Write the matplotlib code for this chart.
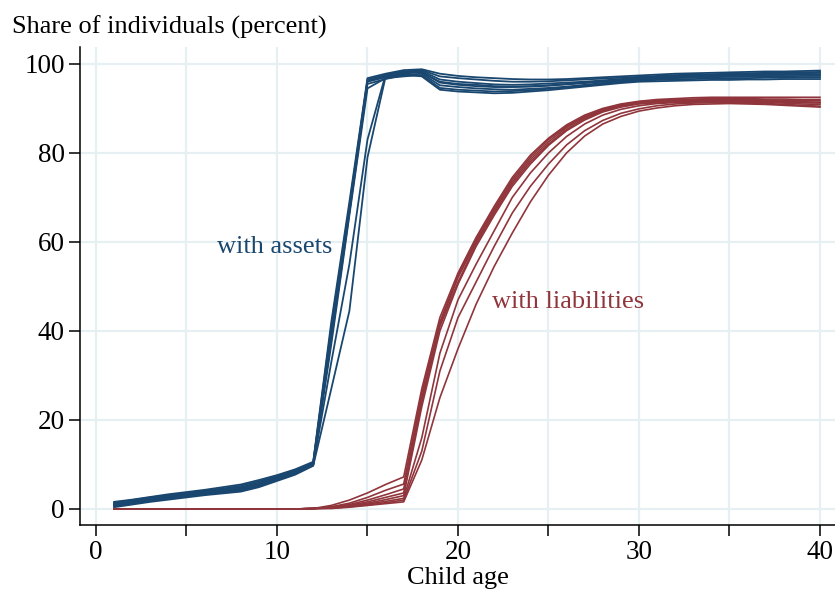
import matplotlib
matplotlib.use("Agg")
import matplotlib.pyplot as plt

# Child age (x axis)
ages = list(range(1, 41))

# Share with assets, one list per sample
assets_1 = [1.6, 2.1, 2.7, 3.3, 3.8, 4.3, 4.9, 5.5, 6.5, 7.6, 8.9, 10.6,
            42, 69, 96.8, 97.8, 98.6, 98.8, 97.8, 97.3,
            97.0, 96.8, 96.6, 96.5, 96.5, 96.6, 96.8, 97.0, 97.2, 97.4,
            97.6, 97.8, 97.9, 98.0, 98.1, 98.2, 98.3, 98.3, 98.4, 98.5]
assets_2 = [1.4, 2.0, 2.6, 3.1, 3.6, 4.1, 4.6, 5.2, 6.2, 7.4, 8.7, 10.4,
            41, 68, 96.5, 97.5, 98.3, 98.6, 97.2, 96.8,
            96.5, 96.2, 96.0, 96.0, 96.1, 96.3, 96.5, 96.7, 96.9, 97.1,
            97.3, 97.5, 97.6, 97.7, 97.8, 97.9, 98.0, 98.1, 98.1, 98.2]
assets_3 = [1.2, 1.8, 2.4, 2.9, 3.4, 3.9, 4.4, 4.9, 5.9, 7.2, 8.6, 10.3,
            40, 67.5, 96.2, 97.3, 98.0, 98.4, 96.5, 96.0,
            95.7, 95.4, 95.3, 95.4, 95.6, 95.8, 96.0, 96.3, 96.6, 96.9,
            97.1, 97.3, 97.4, 97.5, 97.6, 97.7, 97.8, 97.9, 97.9, 98.0]
assets_4 = [1.0, 1.6, 2.2, 2.7, 3.2, 3.7, 4.2, 4.7, 5.7, 7.0, 8.4, 10.2,
            39, 67, 96.0, 97.0, 97.8, 98.2, 95.8, 95.3,
            95.0, 94.8, 94.8, 94.9, 95.1, 95.4, 95.7, 96.0, 96.3, 96.6,
            96.8, 97.0, 97.1, 97.2, 97.3, 97.4, 97.5, 97.5, 97.6, 97.6]
assets_5 = [0.9, 1.5, 2.0, 2.6, 3.1, 3.6, 4.0, 4.5, 5.5, 6.8, 8.2, 10.0,
            38, 66.5, 95.5, 96.6, 97.5, 97.8, 95.2, 94.8,
            94.5, 94.3, 94.2, 94.4, 94.6, 94.9, 95.3, 95.7, 96.1, 96.4,
            96.6, 96.8, 96.9, 97.0, 97.1, 97.1, 97.2, 97.2, 97.3, 97.3]
assets_6 = [0.7, 1.3, 1.9, 2.4, 2.9, 3.4, 3.9, 4.3, 5.3, 6.6, 8.0, 9.9,
            37, 66, 94.5, 96.8, 97.2, 97.5, 94.6, 94.2,
            94.0, 93.8, 93.9, 94.1, 94.4, 94.7, 95.1, 95.5, 95.9, 96.2,
            96.4, 96.5, 96.6, 96.7, 96.8, 96.8, 96.9, 96.9, 97.0, 97.0]
assets_7 = [0.6, 1.2, 1.8, 2.3, 2.8, 3.3, 3.7, 4.1, 5.1, 6.5, 7.9, 9.8,
            33, 55, 83, 97.6, 98.2, 98.0, 96.0, 95.5,
            95.3, 95.0, 94.9, 95.0, 95.2, 95.5, 95.8, 96.1, 96.4, 96.7,
            96.9, 97.1, 97.2, 97.3, 97.4, 97.5, 97.6, 97.6, 97.7, 97.7]
assets_8 = [0.4, 1.0, 1.6, 2.1, 2.6, 3.1, 3.5, 3.9, 4.9, 6.3, 7.7, 9.7,
            27, 44.5, 79, 97.1, 97.6, 97.2, 94.2, 93.8,
            93.6, 93.4, 93.5, 93.8, 94.1, 94.5, 94.9, 95.3, 95.7, 96.0,
            96.1, 96.2, 96.3, 96.4, 96.4, 96.5, 96.5, 96.6, 96.6, 96.6]

# Share with liabilities, one list per sample
liab_1 = [0, 0, 0, 0, 0, 0, 0, 0, 0, 0, 0, 0.1,
          0.8, 2.0, 3.6, 5.5, 7.2, 27, 43, 53,
          61, 68, 74.5, 79.5, 83.3, 86.3, 88.5, 90.0, 91.0, 91.6,
          92.0, 92.2, 92.4, 92.5, 92.5, 92.5, 92.5, 92.5, 92.5, 92.5]
liab_2 = [0, 0, 0, 0, 0, 0, 0, 0, 0, 0, 0, 0.1,
          0.5, 1.3, 2.6, 4.2, 5.6, 26, 42, 52.5,
          60.5, 67.5, 74, 79, 83, 86, 88.2, 89.8, 90.8, 91.5,
          91.8, 92.0, 92.1, 92.2, 92.2, 92.2, 92.1, 92.1, 92.0, 92.0]
liab_3 = [0, 0, 0, 0, 0, 0, 0, 0, 0, 0, 0, 0.1,
          0.4, 1.0, 2.0, 3.2, 4.5, 25, 41.5, 52,
          60, 67, 73.5, 78.5, 82.5, 85.7, 88, 89.6, 90.6, 91.3,
          91.6, 91.8, 91.9, 92.0, 92.0, 92.0, 91.9, 91.8, 91.8, 91.7]
liab_4 = [0, 0, 0, 0, 0, 0, 0, 0, 0, 0, 0, 0.1,
          0.3, 0.8, 1.6, 2.6, 3.6, 24, 41, 51,
          59.5, 66.5, 73, 78, 82, 85.3, 87.7, 89.4, 90.5, 91.2,
          91.5, 91.7, 91.8, 91.9, 91.9, 91.8, 91.7, 91.6, 91.5, 91.4]
liab_5 = [0, 0, 0, 0, 0, 0, 0, 0, 0, 0, 0, 0.1,
          0.3, 0.7, 1.3, 2.1, 3.0, 23, 40, 50.5,
          59, 66, 72.5, 77.5, 81.7, 85, 87.4, 89.2, 90.3, 91.0,
          91.3, 91.5, 91.6, 91.7, 91.7, 91.6, 91.5, 91.4, 91.3, 91.2]
liab_6 = [0, 0, 0, 0, 0, 0, 0, 0, 0, 0, 0, 0.1,
          0.2, 0.6, 1.1, 1.7, 2.4, 16, 35, 47,
          55, 62.5, 70, 75.5, 80, 83.7, 86.5, 88.5, 89.8, 90.6,
          91.1, 91.3, 91.4, 91.5, 91.5, 91.4, 91.3, 91.2, 91.0, 90.9]
liab_7 = [0, 0, 0, 0, 0, 0, 0, 0, 0, 0, 0, 0.1,
          0.2, 0.5, 0.9, 1.4, 2.0, 13, 31, 43,
          51, 59, 66.5, 72.5, 77.5, 81.8, 85, 87.3, 88.9, 89.9,
          90.6, 91.0, 91.2, 91.3, 91.3, 91.2, 91.1, 90.9, 90.7, 90.5]
liab_8 = [0, 0, 0, 0, 0, 0, 0, 0, 0, 0, 0, 0.1,
          0.1, 0.4, 0.8, 1.2, 1.6, 11, 25, 36,
          46, 54.5, 62, 69, 75, 80, 83.8, 86.5, 88.2, 89.4,
          90.1, 90.6, 90.9, 91.0, 91.1, 91.0, 90.9, 90.7, 90.5, 90.3]

assets = [assets_1, assets_2, assets_3, assets_4, assets_5, assets_6, assets_7, assets_8]
liabilities = [liab_1, liab_2, liab_3, liab_4, liab_5, liab_6, liab_7, liab_8]

navy = "#1a476f"
maroon = "#90353b"
grid_color = "#e6eff1"

plt.rcParams["font.family"] = ["Liberation Serif", "DejaVu Serif"]

fig = plt.figure(figsize=(8.35, 5.94), dpi=100)
ax = fig.add_axes([80 / 835, 1 - 525 / 594, 755 / 835, (525 - 47) / 594])

for series in assets:
    ax.plot(ages, series, color=navy, lw=1.3, zorder=3)
for series in liabilities:
    ax.plot(ages, series, color=maroon, lw=1.2, zorder=3)

ax.set_xlim(-0.884, 40.83)
ax.set_ylim(-3.6, 103.8)

ax.set_xticks([0, 10, 20, 30, 40])
ax.set_xticks([5, 15, 25, 35], minor=True)
ax.set_yticks([0, 20, 40, 60, 80, 100])

ax.grid(True, which="both", color=grid_color, lw=1.6, zorder=0)
ax.set_axisbelow(True)

for side in ["top", "right"]:
    ax.spines[side].set_visible(False)
for side in ["left", "bottom"]:
    ax.spines[side].set_linewidth(1.1)
    ax.spines[side].set_color("black")

ax.tick_params(axis="both", which="both", length=8, width=1.1, labelsize=19.5, pad=3)

ax.set_xlabel("Child age", fontsize=19, labelpad=1)
fig.text(12 / 835, 1 - 27 / 594, "Share of individuals (percent)",
         fontsize=19, ha="left", va="center")

ax.text(9.9, 58.9, "with assets", color=navy, fontsize=19, ha="center", va="center")
ax.text(26.1, 46.5, "with liabilities", color=maroon, fontsize=19, ha="center", va="center")

fig.savefig("out.png", dpi=100)
